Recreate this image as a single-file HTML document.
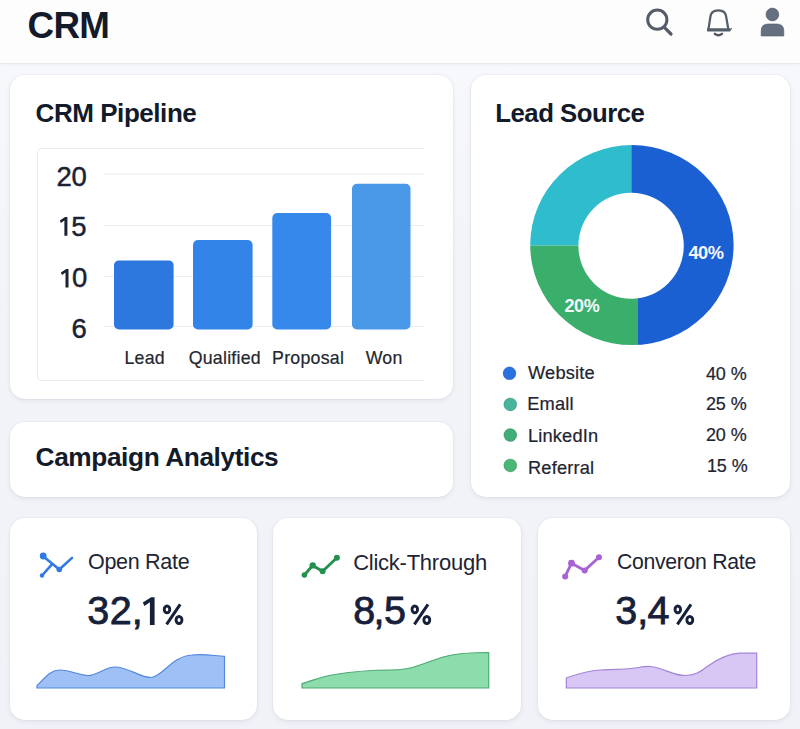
<!DOCTYPE html>
<html><head><meta charset="utf-8">
<style>
*{margin:0;padding:0;box-sizing:border-box}
html,body{width:800px;height:729px;overflow:hidden}
body{background:linear-gradient(#f7f8fb 64px,#f2f4f8 260px,#f0f2f7 729px);font-family:"Liberation Sans",sans-serif;color:#141b2b;position:relative}
.a{position:absolute;white-space:nowrap;line-height:1}
.hdr{position:absolute;left:0;top:0;width:800px;height:64px;background:#fdfdfe;border-bottom:1px solid #e6e8ec;box-shadow:0 1px 3px rgba(30,40,70,0.04)}
.card{position:absolute;background:#fff;border-radius:15px;box-shadow:0 2px 5px rgba(30,40,70,0.07),0 0 0 1px rgba(228,231,238,0.4)}
.t{font-weight:bold;color:#131a2a}
.ax{font-size:27.5px;color:#1b2232;letter-spacing:-0.2px;-webkit-text-stroke:0.45px #1b2232}
.xl{font-size:17.75px;color:#23272f;letter-spacing:0.25px;-webkit-text-stroke:0.2px #23272f}
.lg{font-size:18.25px;color:#1e2430;letter-spacing:0.18px;-webkit-text-stroke:0.2px #1e2430}
.pc{font-size:18px;color:#1e2430;letter-spacing:-0.1px;text-align:right;width:60px;-webkit-text-stroke:0.2px #1e2430}
.kt{font-size:21.5px;color:#1d2433;letter-spacing:-0.3px}
.kv{font-size:39.5px;color:#16203a;-webkit-text-stroke:0.8px #16203a}
.kp{font-size:27.5px;color:#16203a;-webkit-text-stroke:0.4px #16203a;display:inline-block;transform:scaleX(0.88);transform-origin:0 0}
</style></head><body>
<div class="hdr"></div>
<div class="a t" style="left:27.6px;top:7.6px;font-size:36.75px;letter-spacing:-0.75px">CRM</div>
<!-- header icons -->
<svg class="a" style="left:0;top:0" width="800" height="63" viewBox="0 0 800 63">
  <circle cx="657.3" cy="19.7" r="9.6" fill="none" stroke="#555c67" stroke-width="3"/>
  <line x1="664.6" y1="27.6" x2="671" y2="34" stroke="#555c67" stroke-width="3.2" stroke-linecap="round"/>
  <path d="M708.4 29.5 L710.3 17.5 C710.6 12.2 713.6 10.4 718.3 10.4 C723 10.4 726 12.2 726.3 17.5 L728.4 29.5" fill="none" stroke="#555d68" stroke-width="2.2" stroke-linejoin="round"/>
  <rect x="707" y="28.2" width="23.2" height="3.2" rx="0.6" fill="#555d68"/><line x1="729.6" y1="31" x2="731.6" y2="28.2" stroke="#555d68" stroke-width="1.2"/>
  <path d="M714.8 33.8 Q718.4 36.6 722 33.8" fill="none" stroke="#4f5661" stroke-width="2.3" stroke-linecap="round"/>
  <circle cx="772.4" cy="14.5" r="6.4" fill="#666f80" stroke="#545b68" stroke-width="0.6"/>
  <path d="M761.2 36 L761.2 31 Q761.2 24 768.2 24 L776.8 24 Q783.8 24 783.8 31 L783.8 36 Z" fill="#666f80" stroke="#545b68" stroke-width="0.6"/>
</svg>

<!-- Card A: CRM Pipeline -->
<div class="card" style="left:9.5px;top:75px;width:443px;height:323.8px"></div>
<div class="a t" style="left:35.6px;top:100px;font-size:26px;letter-spacing:-0.45px">CRM Pipeline</div>
<div class="a" style="left:37px;top:147.5px;width:387px;height:233px;border:1px solid #e9ebef;border-right:none;border-radius:5px 0 0 5px"></div>
<svg class="a" style="left:0;top:0" width="460" height="400">
  <g stroke="#eceef2" stroke-width="1.2">
    <line x1="104" y1="174" x2="424" y2="174"/>
    <line x1="104" y1="225.5" x2="424" y2="225.5"/>
    <line x1="104" y1="276.5" x2="424" y2="276.5"/>
    <line x1="104" y1="326.5" x2="424" y2="326.5"/>
  </g>
  <rect x="114" y="260.4" width="59.6" height="69.1" rx="5" fill="#2d78de"/>
  <rect x="193" y="240" width="59.6" height="89.5" rx="5" fill="#3384e9"/>
  <rect x="272.3" y="213" width="58.8" height="116.5" rx="5" fill="#3689eb"/>
  <rect x="352" y="183.8" width="58.5" height="145.7" rx="5" fill="#4a99e9"/>
</svg>
<div class="a ax" style="left:56.5px;top:162.8px">20</div>
<div class="a ax" style="left:71.2px;top:213.3px">5</div>
<svg class="a" style="left:0;top:0" width="100" height="300"><g fill="#1b2232">
<path d="M64.4 235.8 L67.4 235.8 L67.4 217.1 L65.1 217.1 L59.8 220.6 L60.9 222.9 L64.4 220.6 Z"/>
<path d="M65.5 287.6 L68.5 287.6 L68.5 269.1 L66.2 269.1 L60.9 272.6 L62 274.9 L65.5 272.6 Z"/></g></svg>
<div class="a ax" style="left:72px;top:264.3px">0</div>
<div class="a ax" style="left:71.6px;top:314.8px">6</div>
<div class="a xl" style="left:124.4px;top:350.3px">Lead</div>
<div class="a xl" style="left:188.7px;top:349.9px">Qualified</div>
<div class="a xl" style="left:272.1px;top:350.2px">Proposal</div>
<div class="a xl" style="left:365.7px;top:350.2px">Won</div>

<!-- Card B: Lead Source -->
<div class="card" style="left:471px;top:75px;width:319px;height:422px"></div>
<div class="a t" style="left:495.3px;top:101.3px;font-size:25.75px;letter-spacing:-0.5px">Lead Source</div>
<svg class="a" style="left:0;top:0" width="800" height="500">
  <defs>
    <mask id="ring">
      <ellipse cx="631.9" cy="245.1" rx="101.7" ry="100" fill="#fff"/>
      <ellipse cx="631.1" cy="245.7" rx="52.7" ry="53" fill="#000"/>
    </mask>
  </defs>
  <g mask="url(#ring)">
    <rect x="520" y="135" width="111.3" height="110.6" fill="#2fbccc"/>
    <rect x="520" y="245.6" width="118" height="110" fill="#3aae6b"/>
    <rect x="631.3" y="135" width="110" height="111.5" fill="#1b60d3"/>
    <rect x="638" y="245.6" width="110" height="110" fill="#1b60d3"/>
  </g>
  <text x="688.4" y="258.7" font-family="Liberation Sans" font-weight="bold" font-size="18.25" letter-spacing="-0.45" fill="#f4f7fc">40%</text>
  <text x="564.4" y="312.4" font-family="Liberation Sans" font-weight="bold" font-size="18" letter-spacing="-0.3" fill="#f4f7fc">20%</text>
  <circle cx="509.5" cy="373.3" r="6.5" fill="#2a72e0" stroke="rgba(0,40,90,0.18)" stroke-width="1"/>
  <circle cx="510.3" cy="404.4" r="6.5" fill="#47b49b" stroke="rgba(0,60,40,0.2)" stroke-width="1"/>
  <circle cx="510.3" cy="435.1" r="6.5" fill="#41ae78" stroke="rgba(0,60,30,0.2)" stroke-width="1"/>
  <circle cx="510.3" cy="465.4" r="6.5" fill="#4bb776" stroke="rgba(0,60,30,0.2)" stroke-width="1"/>
</svg>
<div class="a lg" style="left:528px;top:364.4px">Website</div>
<div class="a lg" style="left:527.2px;top:395px">Emall</div>
<div class="a lg" style="left:527.9px;top:426.5px">LinkedIn</div>
<div class="a lg" style="left:528px;top:458.5px">Referral</div>
<div class="a pc" style="left:686.6px;top:364.7px">40 %</div>
<div class="a pc" style="left:686.6px;top:395.3px">25 %</div>
<div class="a pc" style="left:686.6px;top:426.4px">20 %</div>
<div class="a pc" style="left:687.6px;top:457.2px">15 %</div>

<!-- Card C: Campaign Analytics -->
<div class="card" style="left:9.5px;top:422px;width:443px;height:75.2px"></div>
<div class="a t" style="left:35.6px;top:444px;font-size:26.25px;letter-spacing:-0.4px">Campaign Analytics</div>

<!-- KPI cards -->
<div class="card" style="left:9.5px;top:518px;width:247px;height:202px"></div>
<div class="card" style="left:272.5px;top:518px;width:248.5px;height:202px"></div>
<div class="card" style="left:537.5px;top:518px;width:252.5px;height:202px"></div>

<svg class="a" style="left:0;top:500px" width="800" height="229" viewBox="0 500 800 229">
  <!-- open rate icon -->
  <g stroke="#2f7ae3" stroke-width="2.6" fill="none" stroke-linecap="round" stroke-linejoin="round">
    <path d="M43.1 556.2 L59.3 569.5 L72 557.9"/>
    <path d="M51.5 564.8 L42 575.5"/>
  </g>
  <circle cx="43.2" cy="556" r="3.4" fill="#2f7ae3"/>
  <circle cx="59.3" cy="569.5" r="2.8" fill="#2f7ae3"/>
  <circle cx="42" cy="575.5" r="2.2" fill="#2f7ae3"/>
  <!-- click icon -->
  <g stroke="#23904f" stroke-width="2.9" fill="none" stroke-linecap="round" stroke-linejoin="round">
    <path d="M304.4 575 L312.7 565.4 L322.6 571.2 L336.9 557.7"/>
  </g>
  <g fill="#23904f"><circle cx="304.4" cy="575" r="2.8"/><circle cx="312.7" cy="565.4" r="3.2"/><circle cx="322.6" cy="571.2" r="3"/><circle cx="336.9" cy="557.7" r="3"/></g>
  <!-- conv icon -->
  <g stroke="#a862d6" stroke-width="2.8" fill="none" stroke-linecap="round" stroke-linejoin="round">
    <path d="M565.2 576.4 L571.5 563.2 L584.7 570.4 L599 557.2"/>
  </g>
  <g fill="#a862d6"><circle cx="565.2" cy="576.4" r="3"/><circle cx="571.5" cy="563.2" r="3.4"/><circle cx="584.7" cy="570.4" r="3"/><circle cx="599" cy="557.2" r="3"/></g>

  <!-- area charts -->
  <path d="M37 685.7 C45 678 50 670 60 670 C70 670 80 675.5 88 675.5 C97 675.5 105 667 115 667 C128 667 140 677.5 151 677.5 C162 677.5 172 656 192 655 C205 653.5 215 656 224.5 656.3 L224.5 688 L37 688 Z" fill="#9fc0f5" stroke="#5288dc" stroke-width="1.2"/>
  <path d="M302 683.7 C312 681 322 676 335 674.5 C350 672 370 670 390 670 C400 670 410 669 420 665 C432 661 440 657 452 655 C462 653 475 652.5 488.7 652.5 L488.7 688 L302 688 Z" fill="#8ddcab" stroke="#4caa72" stroke-width="1.2"/>
  <path d="M566.3 678 C575 675 585 671 600 670 C612 669.5 625 669.5 635 668 C642 667 646 666.2 650 666.5 C665 668 672 675.5 685 675.5 C695 675.5 700 672 708 666 C718 659 728 653.5 740 653.2 L756.7 653 L756.7 688 L566.3 688 Z" fill="#d8c6f5" stroke="#a385d9" stroke-width="1.2"/>
</svg>

<div class="a kt" style="left:88px;top:552px">Open Rate</div>
<div class="a kt" style="left:353.2px;top:552px;font-size:22px;letter-spacing:-0.25px">Click-Through</div>
<div class="a kt" style="left:616.9px;top:552px;font-size:21.25px;letter-spacing:-0.3px">Converon Rate</div>

<div class="a kv" style="left:87.3px;top:591px">3</div>
<div class="a kv" style="left:109.7px;top:591px">2</div>
<div class="a kv" style="left:131.7px;top:591px">,</div>
<div class="a kv" style="left:353.3px;top:591px">8</div>
<div class="a kv" style="left:373.6px;top:591px">,</div>
<div class="a kv" style="left:384.1px;top:591px">5</div>
<div class="a kv" style="left:615.3px;top:591px">3</div>
<div class="a kv" style="left:637.2px;top:591px">,</div>
<div class="a kv" style="left:647.6px;top:591px">4</div>
<svg class="a" style="left:0;top:590px" width="800" height="40" viewBox="0 590 800 40">
  <path d="M149.9 625 L154.6 625 L154.6 597.3 L151.2 597.3 L142.8 602.6 L144.4 605.9 L149.9 602.2 Z" fill="#16203a"/>
  <g id="pct" fill="none" stroke="#16203a" stroke-width="2.9">
    <ellipse cx="167" cy="609.4" rx="2.75" ry="3.4"/>
    <ellipse cx="179" cy="620" rx="2.95" ry="3.5"/>
    <line x1="180.2" y1="604.4" x2="166.6" y2="624.4" stroke-width="3" stroke-linecap="butt"/>
  </g>
  <use href="#pct" x="247.8"/>
  <use href="#pct" x="510.8"/>
</svg>
</body></html>
